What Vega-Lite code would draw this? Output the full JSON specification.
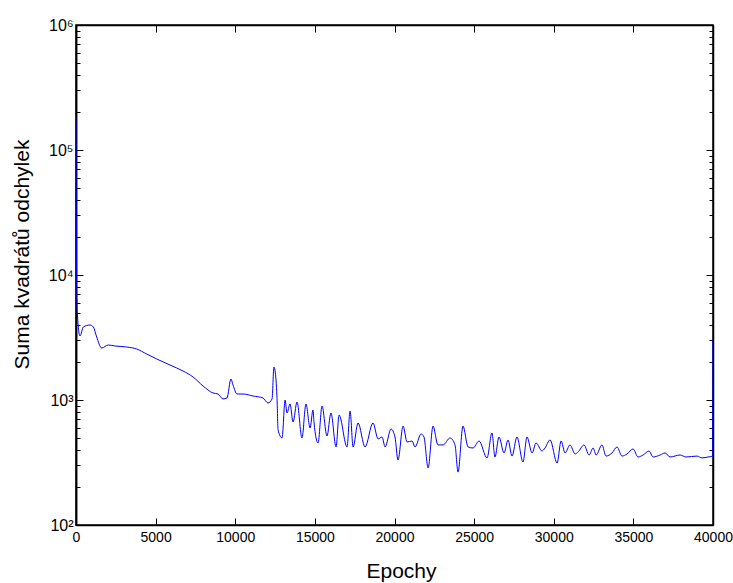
{
  "$schema": "https://vega.github.io/schema/vega-lite/v6.json",
  "width": 637,
  "height": 500,
  "autosize": {"type": "none"},
  "padding": {"left": 76, "top": 25, "right": 20, "bottom": 58},
  "background": "white",
  "config": {
    "view": {"stroke": "black", "strokeWidth": 1.5},
    "axis": {
      "domainColor": "black",
      "domainWidth": 1.5,
      "tickColor": "black",
      "tickWidth": 1,
      "grid": false,
      "labelFont": "Liberation Sans",
      "titleFont": "Liberation Sans",
      "labelColor": "black",
      "titleColor": "black",
      "titleFontWeight": "normal"
    }
  },
  "datasets": {
    "curve": [
      {"epoch": 0, "sse": 173800},
      {"epoch": 20, "sse": 33110},
      {"epoch": 40, "sse": 9120},
      {"epoch": 60, "sse": 5754},
      {"epoch": 90, "sse": 4786},
      {"epoch": 250, "sse": 3251},
      {"epoch": 460, "sse": 3837},
      {"epoch": 880, "sse": 3981},
      {"epoch": 1090, "sse": 3837},
      {"epoch": 1300, "sse": 3192},
      {"epoch": 1610, "sse": 2606},
      {"epoch": 2030, "sse": 2754},
      {"epoch": 2450, "sse": 2704},
      {"epoch": 3180, "sse": 2655},
      {"epoch": 3810, "sse": 2559},
      {"epoch": 4440, "sse": 2333},
      {"epoch": 5070, "sse": 2128},
      {"epoch": 5900, "sse": 1905},
      {"epoch": 6720, "sse": 1706},
      {"epoch": 7350, "sse": 1528},
      {"epoch": 7980, "sse": 1294},
      {"epoch": 8600, "sse": 1138},
      {"epoch": 8920, "sse": 1117},
      {"epoch": 9230, "sse": 1019},
      {"epoch": 9480, "sse": 1038},
      {"epoch": 9730, "sse": 1472},
      {"epoch": 9860, "sse": 1318},
      {"epoch": 10110, "sse": 1117},
      {"epoch": 10490, "sse": 1117},
      {"epoch": 11120, "sse": 1076},
      {"epoch": 11740, "sse": 1038},
      {"epoch": 12060, "sse": 946},
      {"epoch": 12310, "sse": 1019},
      {"epoch": 12430, "sse": 1837},
      {"epoch": 12560, "sse": 1445},
      {"epoch": 12620, "sse": 1057},
      {"epoch": 12690, "sse": 575},
      {"epoch": 12940, "sse": 497},
      {"epoch": 13130, "sse": 1000},
      {"epoch": 13250, "sse": 787},
      {"epoch": 13440, "sse": 929},
      {"epoch": 13630, "sse": 667},
      {"epoch": 13880, "sse": 964},
      {"epoch": 14190, "sse": 497},
      {"epoch": 14440, "sse": 929},
      {"epoch": 14700, "sse": 597},
      {"epoch": 14880, "sse": 832},
      {"epoch": 14950, "sse": 655},
      {"epoch": 15200, "sse": 453},
      {"epoch": 15450, "sse": 895},
      {"epoch": 15760, "sse": 515},
      {"epoch": 16010, "sse": 787},
      {"epoch": 16330, "sse": 421},
      {"epoch": 16520, "sse": 759},
      {"epoch": 17020, "sse": 421},
      {"epoch": 17210, "sse": 817},
      {"epoch": 17400, "sse": 421},
      {"epoch": 17710, "sse": 655},
      {"epoch": 18150, "sse": 421},
      {"epoch": 18650, "sse": 655},
      {"epoch": 18970, "sse": 488},
      {"epoch": 19220, "sse": 506},
      {"epoch": 19410, "sse": 421},
      {"epoch": 19780, "sse": 586},
      {"epoch": 20030, "sse": 506},
      {"epoch": 20220, "sse": 331},
      {"epoch": 20540, "sse": 619},
      {"epoch": 20790, "sse": 461},
      {"epoch": 21100, "sse": 470},
      {"epoch": 21290, "sse": 421},
      {"epoch": 21670, "sse": 535},
      {"epoch": 21850, "sse": 506},
      {"epoch": 22110, "sse": 286},
      {"epoch": 22420, "sse": 619},
      {"epoch": 22730, "sse": 437},
      {"epoch": 23050, "sse": 437},
      {"epoch": 23490, "sse": 497},
      {"epoch": 23800, "sse": 437},
      {"epoch": 23990, "sse": 265},
      {"epoch": 24300, "sse": 619},
      {"epoch": 24620, "sse": 421},
      {"epoch": 24930, "sse": 413},
      {"epoch": 25310, "sse": 470},
      {"epoch": 25810, "sse": 344},
      {"epoch": 26120, "sse": 545},
      {"epoch": 26310, "sse": 350},
      {"epoch": 26560, "sse": 506},
      {"epoch": 26880, "sse": 377},
      {"epoch": 27130, "sse": 479},
      {"epoch": 27380, "sse": 356},
      {"epoch": 27690, "sse": 506},
      {"epoch": 28070, "sse": 319},
      {"epoch": 28320, "sse": 506},
      {"epoch": 28640, "sse": 377},
      {"epoch": 28890, "sse": 453},
      {"epoch": 29260, "sse": 391},
      {"epoch": 29450, "sse": 413},
      {"epoch": 29770, "sse": 479},
      {"epoch": 30210, "sse": 313},
      {"epoch": 30460, "sse": 470},
      {"epoch": 30710, "sse": 377},
      {"epoch": 31020, "sse": 437},
      {"epoch": 31340, "sse": 370},
      {"epoch": 31530, "sse": 384},
      {"epoch": 31900, "sse": 437},
      {"epoch": 32220, "sse": 363},
      {"epoch": 32470, "sse": 413},
      {"epoch": 32660, "sse": 363},
      {"epoch": 33030, "sse": 437},
      {"epoch": 33280, "sse": 356},
      {"epoch": 33660, "sse": 377},
      {"epoch": 33970, "sse": 421},
      {"epoch": 34290, "sse": 356},
      {"epoch": 34600, "sse": 370},
      {"epoch": 34980, "sse": 406},
      {"epoch": 35290, "sse": 350},
      {"epoch": 35610, "sse": 363},
      {"epoch": 35980, "sse": 391},
      {"epoch": 36240, "sse": 350},
      {"epoch": 36680, "sse": 363},
      {"epoch": 36990, "sse": 377},
      {"epoch": 37300, "sse": 350},
      {"epoch": 37930, "sse": 363},
      {"epoch": 38310, "sse": 350},
      {"epoch": 39000, "sse": 356},
      {"epoch": 39310, "sse": 344},
      {"epoch": 39690, "sse": 350},
      {"epoch": 39970, "sse": 356},
      {"epoch": 40000, "sse": 3020}
    ]
  },
  "data": {"name": "curve"},
  "layer": [
    {
      "mark": {"type": "line", "color": "#0000ff", "strokeWidth": 1, "interpolate": "monotone", "clip": true},
      "encoding": {
        "x": {
          "field": "epoch", "type": "quantitative",
          "scale": {"domain": [0, 40000], "nice": false, "zero": false},
          "axis": {
            "orient": "bottom",
            "title": "Epochy",
            "titleFontSize": 21,
            "titleBaseline": "alphabetic",
            "titleX": 325,
            "titleY": 52,
            "values": [0, 5000, 10000, 15000, 20000, 25000, 30000, 35000, 40000],
            "format": "d",
            "labelFontSize": 14,
            "labelBaseline": "top",
            "tickSize": -7,
            "labelPadding": 12,
            "labelFlush": false,
            "labelOverlap": false
          }
        },
        "y": {
          "field": "sse", "type": "quantitative",
          "scale": {"type": "log", "domain": [100, 1000000], "nice": false},
          "axis": {
            "orient": "left",
            "title": "Suma kvadrátů odchylek",
            "titleFontSize": 21,
            "titleAngle": -90,
            "titleBaseline": "alphabetic",
            "titleX": -48,
            "titleY": 229,
            "titleAlign": "center",
            "values": [100, 1000, 10000, 100000, 1000000],
            "labelExpr": "datum.value==100?'10²':datum.value==1000?'10³':datum.value==10000?'10⁴':datum.value==100000?'10⁵':'10⁶'",
            "labelFontSize": 16,
            "ticks": false,
            "labelPadding": 3,
            "labelOverlap": false,
            "labelFlush": false
          }
        }
      }
    },
    {
      "mark": {"type": "line", "opacity": 0},
      "encoding": {
        "x": {
          "field": "epoch", "type": "quantitative",
          "axis": {
            "orient": "bottom",
            "offset": -500,
            "title": null,
            "labels": false,
            "values": [0, 5000, 10000, 15000, 20000, 25000, 30000, 35000, 40000],
            "tickSize": 7
          }
        },
        "y": {
          "field": "sse", "type": "quantitative",
          "axis": {
            "orient": "left",
            "offset": -637,
            "title": null,
            "labels": false,
            "values": [100,200,300,400,500,600,700,800,900,1000,2000,3000,4000,5000,6000,7000,8000,9000,10000,20000,30000,40000,50000,60000,70000,80000,90000,100000,200000,300000,400000,500000,600000,700000,800000,900000,1000000],
            "tickSize": {"condition": {"test": "datum.value==100||datum.value==1000||datum.value==10000||datum.value==100000||datum.value==1000000", "value": 7}, "value": 4}
          }
        }
      }
    },
    {
      "mark": {"type": "line", "opacity": 0},
      "encoding": {
        "x": {
          "field": "epoch", "type": "quantitative",
          "axis": null
        },
        "y": {
          "field": "sse", "type": "quantitative",
          "axis": {
            "orient": "right",
            "offset": -637,
            "title": null,
            "labels": false,
            "values": [100,200,300,400,500,600,700,800,900,1000,2000,3000,4000,5000,6000,7000,8000,9000,10000,20000,30000,40000,50000,60000,70000,80000,90000,100000,200000,300000,400000,500000,600000,700000,800000,900000,1000000],
            "tickSize": {"condition": {"test": "datum.value==100||datum.value==1000||datum.value==10000||datum.value==100000||datum.value==1000000", "value": 7}, "value": 4}
          }
        }
      }
    }
  ],
  "resolve": {"axis": {"x": "independent", "y": "independent"}}
}
